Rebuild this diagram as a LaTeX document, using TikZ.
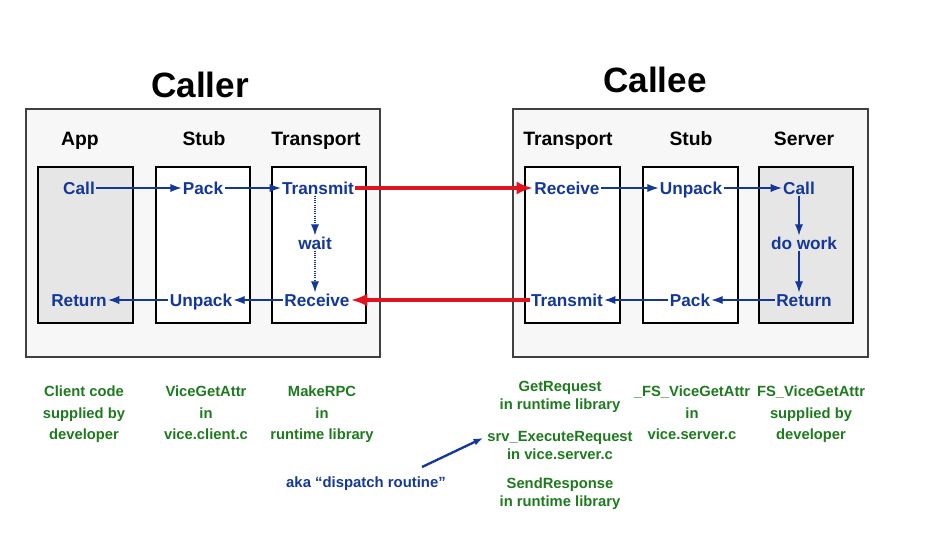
\documentclass[tikz,border=0pt]{standalone}
\usepackage{fontspec}
\setmainfont{Liberation Sans}
\usetikzlibrary{positioning,arrows.meta}

\definecolor{rpcblue}{HTML}{14389A}
\definecolor{rpcgreen}{HTML}{1E7A1E}
\definecolor{rpcred}{HTML}{E0141E}
\definecolor{outerfill}{HTML}{F7F7F7}
\definecolor{innerfill}{HTML}{E6E6E6}

\tikzset{
  outerbox/.style={draw=black!75, line width=1pt, fill=outerfill},
  layerbox/.style={draw=black, line width=1pt, fill=white},
  appbox/.style={layerbox, fill=innerfill},
  title/.style={font=\bfseries\fontsize{30}{34}\selectfont},
  head/.style={font=\bfseries\fontsize{16.5}{19}\selectfont, text height=11.9pt, text depth=0pt},
  op/.style={font=\bfseries\fontsize{14.7}{17}\selectfont, text=rpcblue, inner sep=1pt,
    text height=10.6pt, text depth=0pt},
  note/.style={font=\bfseries\fontsize{12.6}{18.3}\selectfont, text=rpcgreen, align=center, anchor=north},
  shortnote/.style={note, font=\bfseries\fontsize{12.6}{15.4}\selectfont},
  flow/.style={rpcblue, line width=0.9pt, -{Latex[length=9.5pt,width=7pt]}},
  waitflow/.style={flow, densely dotted},
  wire/.style={rpcred, line width=3.4pt, -{Latex[length=14pt,width=11pt]}}
}

\begin{document}
\begin{tikzpicture}[x=0.03cm, y=-0.03cm]
  \useasboundingbox (0,0) rectangle (929,549);

  \draw[outerbox] (26,109) rectangle (380,357);
  \draw[outerbox] (513,109) rectangle (868,357);

  \node[title] (caller) at (200,85) {Caller};
  \node[title] (callee) at (655,80) {Callee};

  \draw[appbox] (38,167) rectangle (133,323);
  \draw[layerbox] (156,167) rectangle (250,323);
  \draw[layerbox] (272,167) rectangle (366,323);
  \draw[layerbox] (525,167) rectangle (620,323);
  \draw[layerbox] (643,167) rectangle (738,323);
  \draw[appbox] (759,167) rectangle (853,323);

  \node[head] (happ) at (80,139) {App};
  \node[head] (hcstub) at (204,139) {Stub};
  \node[head] (hctrans) at (316,139) {Transport};
  \node[head] (hstrans) at (568,139) {Transport};
  \node[head] (hsstub) at (691,139) {Stub};
  \node[head] (hserver) at (804,139) {Server};

  % caller side
  \node[op] (ccall) at (79,188) {Call};
  \node[op] (cpack) at (203,188) {Pack};
  \node[op] (ctransmit) at (318,188) {Transmit};
  \node[op] (cwait) at (315,243) {wait};
  \node[op] (creceive) at (317,300) {Receive};
  \node[op] (cunpack) at (201,300) {Unpack};
  \node[op] (creturn) at (79,300) {Return};

  % callee side
  \node[op] (sreceive) at (567,188) {Receive};
  \node[op] (sunpack) at (691,188) {Unpack};
  \node[op] (scall) at (799,188) {Call};
  \node[op] (swork) at (804,243) {do work};
  \node[op] (sreturn) at (804,300) {Return};
  \node[op] (spack) at (690,300) {Pack};
  \node[op] (stransmit) at (567,300) {Transmit};

  \draw[flow] (ccall) -- (cpack);
  \draw[flow] (cpack) -- (ctransmit);
  \draw[waitflow] (ctransmit.south -| cwait) -- (cwait);
  \draw[waitflow] (cwait) -- (creceive.north -| cwait);
  \draw[flow] (creceive) -- (cunpack);
  \draw[flow] (cunpack) -- (creturn);

  \draw[flow] (sreceive) -- (sunpack);
  \draw[flow] (sunpack) -- (scall);
  \draw[flow] (scall) -- (swork.north -| scall);
  \draw[flow] (swork.south -| scall) -- (sreturn.north -| scall);
  \draw[flow] (sreturn) -- (spack);
  \draw[flow] (spack) -- (stransmit);

  \draw[wire] (ctransmit) -- (sreceive);
  \draw[wire] (stransmit) -- (creceive);

  % where the code lives
  \node[note] (nclient) at (84,382) {Client code\\supplied by\\developer};
  \node[note] (nvice) at (206,382) {ViceGetAttr\\in\\vice.client.c};
  \node[note] (nmake) at (322,382) {MakeRPC\\in\\runtime library};
  \node[shortnote] (nget) at (560,377) {GetRequest\\in runtime library};
  \node[shortnote] (nexec) at (560,427) {srv\_ExecuteRequest\\in vice.server.c};
  \node[shortnote] (nsend) at (560,474) {SendResponse\\in runtime library};
  \node[note] (nfsu) at (692,382) {\_FS\_ViceGetAttr\\in\\vice.server.c};
  \node[note] (nfs) at (811,382) {FS\_ViceGetAttr\\supplied by\\developer};

  \node[op, font=\bfseries\fontsize{12.7}{15}\selectfont, text height=9.1pt] (aka) at (366,482) {aka “dispatch routine”};
  \coordinate (akatail) at (422,467);
  \coordinate (akatip) at (483,438);
  \draw[rpcblue, line width=2pt, -{Latex[length=8pt,width=6pt]}] (akatail) -- (akatip);
\end{tikzpicture}
\end{document}
